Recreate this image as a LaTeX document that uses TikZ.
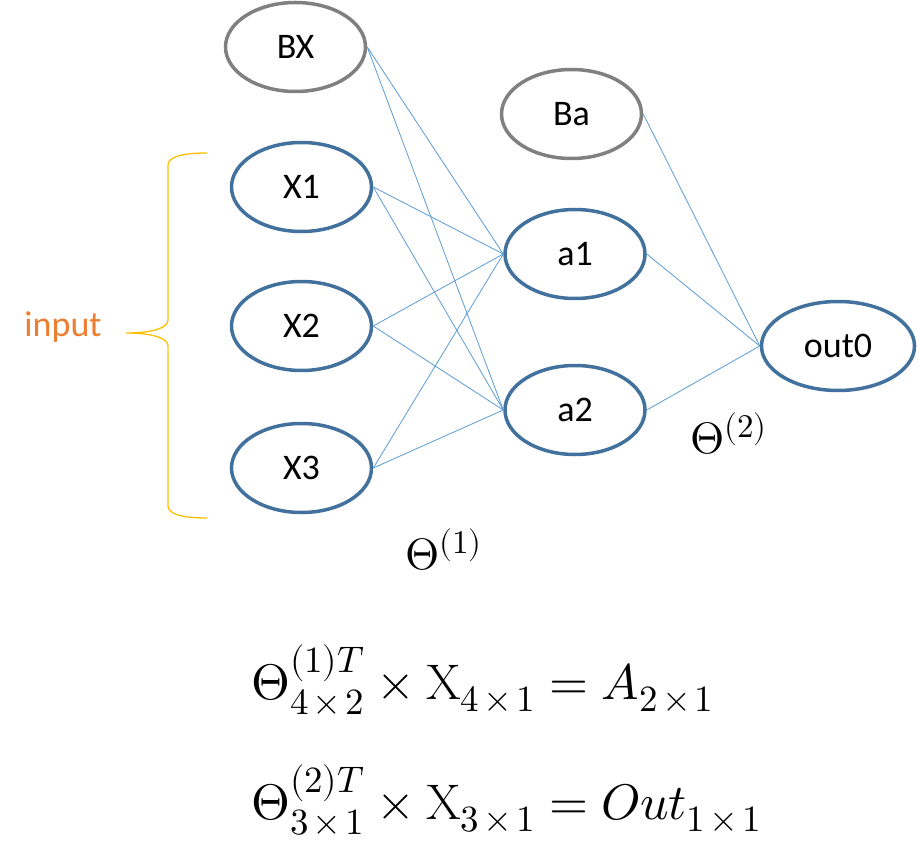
\documentclass[tikz,border=0pt]{standalone}
\usepackage{fontspec}
\usepackage{unicode-math}
\newfontfamily\carlito{Carlito}
\usetikzlibrary{shapes.geometric}
\definecolor{nodeblue}{HTML}{41719C}
\definecolor{nodegray}{HTML}{808080}
\definecolor{linkblue}{HTML}{5B9BD5}
\definecolor{braceyellow}{HTML}{FFC000}
\definecolor{inputorange}{HTML}{ED7D31}
\newcommand{\bigsup}[1]{\mbox{\fontsize{33}{40}\selectfont$#1$}}
\newcommand{\fsc}[1]{\mbox{\fontsize{37}{44}\selectfont$#1$}}
\newcommand{\tm}{\mkern2mu{\times}\mkern2mu}
\begin{document}
\begin{tikzpicture}[x=1pt,y=-1pt,
  neuron/.style={ellipse, draw=nodeblue, line width=3.5pt, minimum width=140pt,
    minimum height=89pt, inner sep=0pt, font=\carlito\fontsize{36}{43}\selectfont},
  bias/.style={neuron, draw=nodegray},
  link/.style={draw=linkblue, line width=0.8pt},
  bracestyle/.style={draw=braceyellow, line width=1.3pt},
  theta/.style={anchor=base west, inner sep=0pt, font=\fontsize{44}{52}\selectfont},
  formula/.style={anchor=base west, inner sep=0pt, font=\fontsize{50}{60}\selectfont}]
\useasboundingbox (0,0) rectangle (917,842);

\node[bias] (BX) at (295.5,47) {BX};
\node[neuron] (X1) at (301.5,187) {X1};
\node[neuron] (X2) at (301.5,326) {X2};
\node[neuron] (X3) at (301.5,468) {X3};
\node[bias] (Ba) at (571.5,114) {Ba};
\node[neuron] (a1) at (575,254) {a1};
\node[neuron] (a2) at (575,410) {a2};
\node[neuron, minimum width=153pt] (out0) at (838,346) {out0};

\foreach \s in {BX,X1,X2,X3}{
  \foreach \t in {a1,a2}{
    \draw[link] (\s.east) -- (\t.west);
  }
}
\foreach \s in {Ba,a1,a2}{
  \draw[link] (\s.east) -- (out0.west);
}

\coordinate (btop) at (207,153);
\coordinate (btip) at (126,333);
\coordinate (bbot) at (207,518);
\draw[bracestyle] (btop) .. controls (182,153) and (168,157) .. (168,165)
  -- (168,320) .. controls (168,328) and (152,333) .. (btip)
  .. controls (152,333) and (168,338) .. (168,346)
  -- (168,506) .. controls (168,514) and (182,518) .. (bbot);

\node[anchor=base, inner sep=0pt, text=inputorange,
  font=\carlito\fontsize{36}{43}\selectfont] (inp) at (63,336) {input};

\node[theta] (th1) at (405,569) {$\Theta^{\bigsup{(1)}}$};
\node[theta] (th2) at (690,453) {$\Theta^{\bigsup{(2)}}$};

\node[formula] (f1) at (251,699) {$\Theta^{\fsc{(1)T}}_{\fsc{4\tm2}}\times\mathrm{X}_{\fsc{4\tm1}}=A_{\fsc{2\tm1}}$};
\node[formula] (f2) at (251,819) {$\Theta^{\fsc{(2)T}}_{\fsc{3\tm1}}\times\mathrm{X}_{\fsc{3\tm1}}=Out_{\fsc{1\tm1}}$};
\end{tikzpicture}
\end{document}
